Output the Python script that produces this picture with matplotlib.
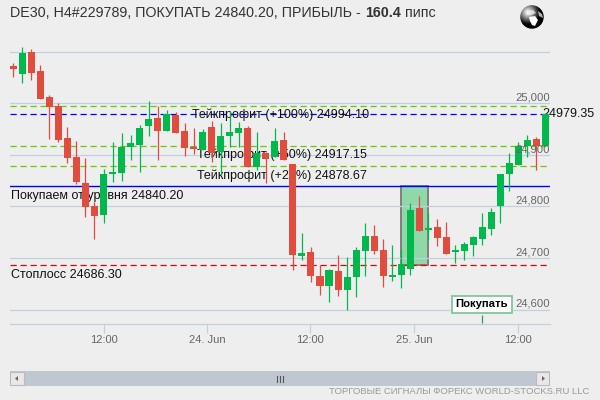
# -*- coding: utf-8 -*-
# DE30 H1 candles with the trade levels of signal #229789
import numpy as np
import matplotlib
matplotlib.use('Agg')
import matplotlib.pyplot as plt
from matplotlib.patches import Rectangle, Polygon, Circle

plt.rcParams['font.family'] = ['Liberation Sans', 'DejaVu Sans']

opens = [25072, 25057, 25099.5, 25063, 25012, 24995, 24933, 24896, 24845.5, 24800.9,
         24784, 24863, 24865.4, 24915, 24919, 24956, 24971.5, 24946, 24977, 24946,
         24915, 24909, 24954, 24906, 24937, 24942, 24952, 24876.5, 24904, 24896,
         24929, 24882, 24704, 24712, 24665, 24646, 24675, 24638, 24663, 24714,
         24743, 24715.5, 24663, 24667, 24679, 24797, 24754, 24760, 24741, 24712,
         24714, 24725, 24737, 24756, 24801, 24863, 24880, 24917, 24931, 24917]
highs = [25078, 25109, 25105, 25074, 25016, 25001, 24954, 24927, 24894, 24808.6,
         24872.6, 24925, 24942, 24938.5, 24958, 25004, 24995, 24987, 24983, 24962,
         24952, 24950, 24966, 24962, 24985, 24964, 24956, 24944, 24906, 24952,
         24944, 24882, 24748.5, 24721, 24686.5, 24679, 24706, 24702, 24721, 24768,
         24764, 24737, 24725, 24715.5, 24807, 24820, 24787, 24776, 24770, 24725,
         24731, 24743, 24787, 24797, 24863, 24904, 24925, 24938.5, 24935, 24979.35]
lows = [25051, 25039, 25045, 25009, 24931, 24925, 24884, 24843.5, 24780, 24737.5,
        24768.5, 24847.4, 24849.3, 24890, 24866.8, 24936.6, 24890, 24946, 24942, 24898,
        24902, 24909, 24886, 24863, 24915, 24915, 24876.5, 24871, 24845.5, 24896,
        24890, 24677, 24696, 24653.5, 24628, 24615, 24626, 24599, 24624, 24665,
        24708, 24644, 24655, 24642, 24667, 24752, 24735, 24723, 24708, 24690,
        24696, 24704, 24725, 24745, 24768, 24830, 24880, 24896, 24871, 24917]
closes = [25067, 25097.5, 25059, 25009, 24993, 24929, 24894, 24848, 24799.5, 24781.5,
          24863, 24866.8, 24915, 24922.4, 24952, 24969.6, 24946, 24979, 24942, 24913,
          24911, 24944, 24904, 24937, 24944, 24952, 24876.5, 24904, 24892, 24927,
          24890, 24705, 24710, 24665, 24646, 24677, 24638, 24663, 24715.5, 24743,
          24714, 24665, 24667, 24688, 24793, 24752, 24758, 24739, 24708, 24715.5,
          24727, 24741, 24760, 24789, 24863, 24884, 24917, 24929, 24917, 24979.35]

y_ticks = [24600, 24700, 24800, 24900, 25000, 25100]
y_labels = ['24,600', '24,700', '24,800', '24,900', '25,000', '']
x_ticks = [10.1, 21.5, 32.9, 44.45, 56.0]
x_labels = ['12:00', '24. Jun', '12:00', '25. Jun', '12:00']

entry = 24840.20
stop = 24686.30
take_100 = 24994.10
take_50 = 24917.15
take_20 = 24878.67
last = 24979.35
signal_bars = [43, 46]
flag_bar = 52

GREEN = '#00b84c'
RED = '#e04c3e'
GRID = '#c0d0e0'
BG = '#eeeeee'

fig = plt.figure(figsize=(6, 4), dpi=100, facecolor=BG)

# pixel canvas for everything outside the price axes
top = fig.add_axes([0, 0, 1, 1], zorder=0)
top.set_xlim(0, 600)
top.set_ylim(400, 0)
top.axis('off')

ax = fig.add_axes([10/600, 1-323.5/400, 540/600, 283.5/400], zorder=1)
ax.patch.set_alpha(0)
ax.set_xlim(-0.366, 59.5)
ax.set_ylim(24573, 25122.7)
for s in ['top', 'left', 'right']:
    ax.spines[s].set_visible(False)
ax.spines['bottom'].set_color(GRID)
ax.spines['bottom'].set_linewidth(0.9)

ax.set_yticks(y_ticks)
ax.set_yticklabels([])
ax.tick_params(axis='y', length=0)
ax.grid(axis='y', color=GRID, linewidth=0.9, zorder=1)
ax.set_axisbelow(True)
ax.set_xticks(x_ticks)
ax.set_xticklabels(x_labels, fontsize=8.0, color='#666666')
ax.tick_params(axis='x', length=6.8, width=0.9, color=GRID, pad=1.8)

# signal bar range, sits under the grid
ax.add_patch(Rectangle((signal_bars[0], stop), signal_bars[1]-signal_bars[0], entry-stop,
                       facecolor='#8fd9a9', edgecolor='#808080', linewidth=1.4, zorder=0.5))

# levels
ax.axhline(take_100, color='#66cc00', linewidth=0.9, linestyle=(0, (5, 3)), zorder=2)
ax.axhline(last, color='#0000ff', linewidth=0.9, linestyle=(0, (5, 3)), zorder=2)
ax.axhline(take_50, color='#66cc00', linewidth=0.9, linestyle=(0, (5, 3)), zorder=2)
ax.axhline(take_20, color='#66cc00', linewidth=0.9, linestyle=(0, (5, 3)), zorder=2)
ax.axhline(entry, color='#0000ff', linewidth=1.0, zorder=2)
ax.axhline(stop, color='#ee0000', linewidth=0.9, linestyle=(0, (5, 3)), zorder=2)


def level_text(x_px, price, txt, dy):
    # x given from the axes left edge, y shifted below the level in pixels
    ax.annotate(txt, xy=(0, price), xycoords=ax.get_yaxis_transform(),
                xytext=(x_px*0.72, -dy*0.72), textcoords='offset points',
                fontsize=9.0, color='#111111', va='center', ha='left',
                annotation_clip=False, zorder=3)


level_text(182, take_100, 'Тейкпрофит (+100%) 24994.10', 8)
level_text(187, take_50, 'Тейкпрофит (+50%) 24917.15', 9)
level_text(187, take_20, 'Тейкпрофит (+20%) 24878.67', 9.5)
level_text(1, entry, 'Покупаем от уровня 24840.20', 10)
level_text(1, stop, 'Стоплосс 24686.30', 10)
level_text(532, last, '24979.35', 0)

# candles
o = np.array(opens)
c = np.array(closes)
x = np.arange(len(o))
colors = [GREEN if b >= a else RED for a, b in zip(o, c)]
ax.vlines(x, lows, highs, colors=colors, linewidth=0.9, zorder=4)
ax.bar(x, np.abs(c-o), bottom=np.minimum(o, c), width=0.78, color=colors, linewidth=0, zorder=4)

# price labels sit on top of the candles
for p, lab in zip(y_ticks, y_labels):
    ax.annotate(lab, xy=(1, p), xycoords=ax.get_yaxis_transform(),
                xytext=(0, 4.2), textcoords='offset points', fontsize=8.1,
                color='#666666', ha='right', va='center', zorder=6,
                annotation_clip=False)

# buy flag
ax.vlines(flag_bar, ax.get_ylim()[0], 24590, color='#2e9e5f', linewidth=0.9, zorder=5)
ax.text(flag_bar-0.05, 24610, 'Покупать', fontsize=8.1, fontweight='bold', color='black',
        ha='center', va='center', zorder=7,
        bbox=dict(boxstyle='square,pad=0.3', facecolor='white', edgecolor='#7fc79b', linewidth=1.3))

# title, the value is bold
t1 = top.text(10, 13, 'DE30, H4#229789, ПОКУПАТЬ 24840.20, ПРИБЫЛЬ - ', fontsize=10.25,
              color='#333333', va='center', ha='left')
t2 = top.annotate('160.4', xy=(1, 0.5), xycoords=t1, xytext=(0.5, 0), textcoords='offset points',
                  fontsize=10.25, fontweight='bold', color='#333333', va='center', ha='left')
top.annotate(' пипс', xy=(1, 0.5), xycoords=t2, fontsize=10.25, color='#333333',
             va='center', ha='left')

# globe icon
yy, xx = np.mgrid[-1:1:80j, -1:1:80j]
shade = np.clip(1.05 - np.hypot(xx+0.35, yy+0.4)*1.05, 0, 1)
shade = np.ma.masked_where(np.hypot(xx, yy) > 1, shade)
globe = top.imshow(shade, cmap='gray', extent=(520, 544, 29, 5), vmin=0, vmax=1, zorder=1)
top.set_xlim(0, 600)
top.set_ylim(400, 0)
top.set_aspect('auto')
globe.set_clip_path(Circle((532, 17), 12, transform=top.transData))
top.add_patch(Polygon([(527, 11), (533, 10), (536, 13), (531, 15), (527, 15)],
                      facecolor='#f0f0f0', edgecolor='none', alpha=0.75, zorder=2))
top.add_patch(Polygon([(529, 17), (535, 16), (538, 20), (535, 26), (532, 25), (530, 21)],
                      facecolor='#ffffff', edgecolor='none', zorder=2))
top.add_patch(Polygon([(538, 11), (542, 14), (543, 18), (539, 16)],
                      facecolor='#dddddd', edgecolor='none', alpha=0.8, zorder=2))

# scrollbar
top.add_patch(Rectangle((10, 371), 540, 15, facecolor='#bfc8d1', edgecolor='none'))
top.add_patch(Rectangle((10, 372), 13.5, 13, facecolor='#ebe7e8', edgecolor='#bbbbbb', linewidth=0.8))
top.add_patch(Rectangle((535.5, 372), 13.5, 13, facecolor='#ebe7e8', edgecolor='#bbbbbb', linewidth=0.8))
top.add_patch(Polygon([(15, 378.5), (18, 376), (18, 381)], facecolor='#666666', edgecolor='none'))
top.add_patch(Polygon([(545, 378.5), (542, 376), (542, 381)], facecolor='#666666', edgecolor='none'))
for gx in [276.5, 279.5, 282.5]:
    top.plot([gx, gx], [375.5, 381.5], color='#555555', linewidth=0.8)

top.text(589, 392, 'ТОРГОВЫЕ СИГНАЛЫ ФОРЕКС WORLD-STOCKS.RU LLC', fontsize=6.8,
         color='#999999', ha='right', va='center')

plt.savefig('out.png', dpi=100, facecolor=BG)
